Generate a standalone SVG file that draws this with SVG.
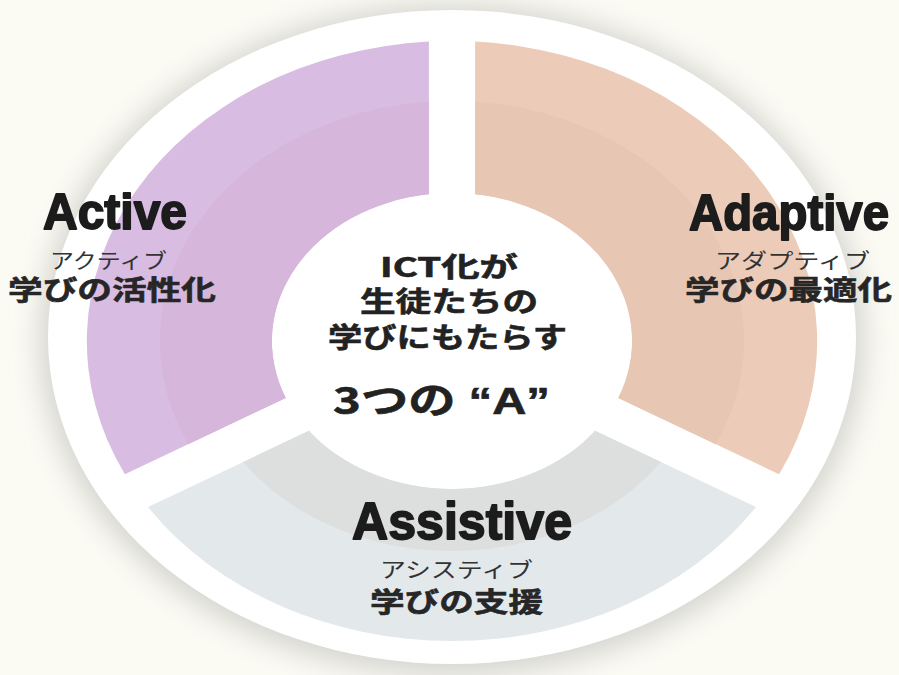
<svg xmlns="http://www.w3.org/2000/svg" width="899" height="675" viewBox="0 0 899 675">
  <defs>
    <filter id="shadow" x="-10%" y="-10%" width="120%" height="120%">
      <feGaussianBlur stdDeviation="14"/>
    </filter>
    <style>
      .en { font-family: "Liberation Sans", Arial, sans-serif; font-weight: 700; fill: #1c1c1c; stroke: #1c1c1c; stroke-width: 1.8; stroke-linejoin: round; }
      .kana { font-family: "Noto Sans CJK JP", "Noto Sans", sans-serif; font-weight: 400; fill: #333; font-size: 21px; }
      .jp { font-family: "Noto Sans CJK JP", "Noto Sans", sans-serif; font-weight: 700; fill: #262626; stroke: #262626; stroke-width: 0.6; font-size: 27px; }
      .ctr { font-family: "Noto Sans CJK JP", "Noto Sans", sans-serif; font-weight: 700; fill: #222; stroke: #222; stroke-width: 0.6; }
    </style>
  </defs>

  <rect x="0" y="0" width="899" height="675" fill="#fbfaf3"/>
  <ellipse cx="452" cy="340" rx="412" ry="335" fill="#d4d4cf" filter="url(#shadow)"/>
  <ellipse cx="452" cy="337" rx="404" ry="327" fill="#ffffff"/>

  <g id="active">
    <g transform="translate(452,341) scale(1.217,1)">
      <path d="M -19 -299.4 A 300 300 0 0 0 -268.8 133.3 L -136.6 56.9 A 148 148 0 0 1 -19 -146.8 Z" fill="#d9bce2"/>
      <path d="M -19 -239.2 A 240 240 0 0 0 -216.7 103.2 L -136.6 56.9 A 148 148 0 0 1 -19 -146.8 Z" fill="#d6b7db"/>
    </g>
    <text class="en" x="43" y="229" font-size="50" textLength="144" lengthAdjust="spacingAndGlyphs">Active</text>
    <text class="kana" x="50" y="268" textLength="117" lengthAdjust="spacingAndGlyphs">アクティブ</text>
    <text class="jp" x="8" y="300" textLength="208" lengthAdjust="spacingAndGlyphs">学びの活性化</text>
  </g>

  <g id="adaptive">
    <g transform="translate(452,341) scale(1.217,1)">
      <path d="M 19 -299.4 A 300 300 0 0 1 268.8 133.3 L 136.6 56.9 A 148 148 0 0 0 19 -146.8 Z" fill="#eccbb9"/>
      <path d="M 19 -239.2 A 240 240 0 0 1 216.7 103.2 L 136.6 56.9 A 148 148 0 0 0 19 -146.8 Z" fill="#e8c6b4"/>
    </g>
    <text class="en" x="689" y="230" font-size="50" textLength="200" lengthAdjust="spacingAndGlyphs">Adaptive</text>
    <text class="kana" x="715" y="268" textLength="155" lengthAdjust="spacingAndGlyphs">アダプティブ</text>
    <text class="jp" x="685" y="300" textLength="207" lengthAdjust="spacingAndGlyphs">学びの最適化</text>
  </g>

  <g id="assistive">
    <g transform="translate(452,341) scale(1.217,1)">
      <path d="M 249.8 166.1 A 300 300 0 0 1 -249.8 166.1 L -117.6 89.8 A 148 148 0 0 0 117.6 89.8 Z" fill="#e3e9eb"/>
      <path d="M 171.6 121.0 A 210 210 0 0 1 -171.6 121.0 L -117.6 89.8 A 148 148 0 0 0 117.6 89.8 Z" fill="#dcdfde"/>
    </g>
    <text class="en" x="352" y="539" font-size="52" textLength="220" lengthAdjust="spacingAndGlyphs">Assistive</text>
    <text class="kana" x="380" y="577" textLength="153" lengthAdjust="spacingAndGlyphs">アシスティブ</text>
    <text class="jp" x="370" y="612" textLength="173" lengthAdjust="spacingAndGlyphs">学びの支援</text>
  </g>

  <g id="center">
    <text class="ctr" x="380" y="277" font-size="27" textLength="138" lengthAdjust="spacingAndGlyphs">ICT化が</text>
    <text class="ctr" x="360" y="312" font-size="28" textLength="178" lengthAdjust="spacingAndGlyphs">生徒たちの</text>
    <text class="ctr" x="328" y="348" font-size="28" textLength="239" lengthAdjust="spacingAndGlyphs">学びにもたらす</text>
    <text class="ctr" x="333" y="414" font-size="37" textLength="217" lengthAdjust="spacingAndGlyphs">3つの<tspan font-family="Liberation Sans, Arial, sans-serif" font-weight="700"> “A”</tspan></text>
  </g>
</svg>
